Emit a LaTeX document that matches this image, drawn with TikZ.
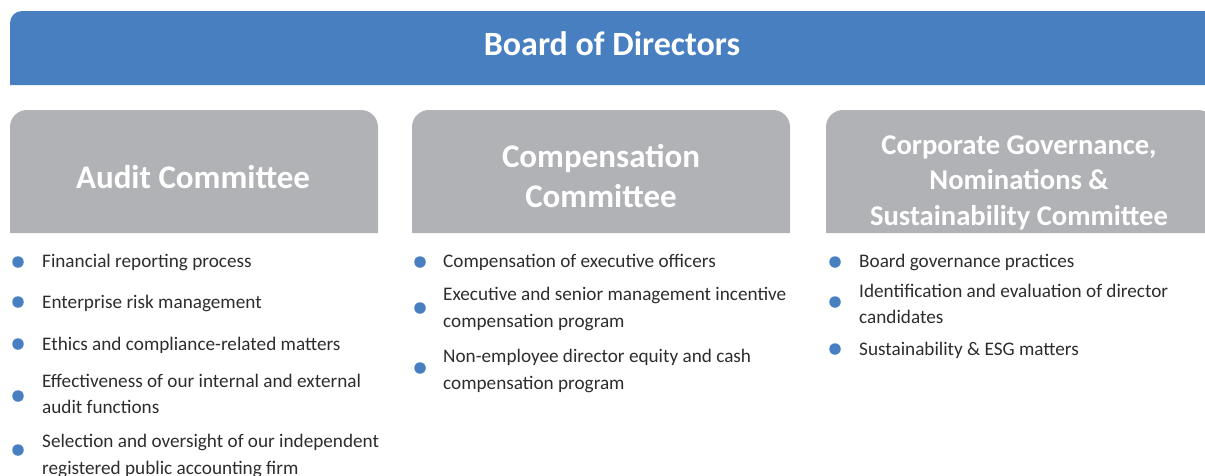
\documentclass[tikz,border=0pt]{standalone}
\usepackage{fontspec}
\setmainfont{Carlito}
\usetikzlibrary{positioning}
\definecolor{boardblue}{RGB}{71,127,192}
\definecolor{boxgray}{RGB}{177,178,182}
\definecolor{itemgray}{RGB}{45,45,45}

\tikzset{
  headtext/.style={text=white, align=center, inner sep=0pt, font=\fontsize{33}{40}\selectfont\bfseries},
  dot/.style={circle, fill=boardblue, inner sep=0pt, minimum size=11.5pt},
  item/.style={anchor=west, align=left, inner sep=0pt, text=itemgray, font=\fontsize{19.2}{26.5}\selectfont},
}

\begin{document}
\begin{tikzpicture}[x=1pt,y=-1pt]
  \useasboundingbox (0,0) rectangle (1205,475);
  % board bar
  \fill[boardblue] (10,85) [rounded corners=12] -- (10,11) [sharp corners] -- (1220,11) -- (1220,85) -- cycle;
  \node[headtext, font=\fontsize{34}{40}\selectfont\bfseries] (board) at (612,44) {Board of Directors};

  % committee heads
  \fill[boxgray] (10,233) [rounded corners=17] -- (10,110) -- (378,110) [sharp corners] -- (378,233) -- cycle;
  \fill[boxgray] (412,233) [rounded corners=17] -- (412,110) -- (790,110) [sharp corners] -- (790,233) -- cycle;
  \fill[boxgray] (826,233) [rounded corners=17] -- (826,110) -- (1215,110) [sharp corners] -- (1215,233) -- cycle;
  \node[headtext] (audit) at (193,177) {Audit Committee};
  \node[headtext] (comp) at (601,176) {Compensation\\Committee};
  \node[headtext, font=\fontsize{28.6}{35.5}\selectfont\bfseries] (gov) at (1019,182.5) {Corporate Governance,\\Nominations \&\\Sustainability Committee};

  % audit items
  \node[dot] (a1) at (18,262) {};
  \node[item] (ta1) at (42,262) {Financial reporting process};
  \node[dot] (a2) at (18,302) {};
  \node[item] (ta2) at (42,303) {Enterprise risk management};
  \node[dot] (a3) at (18,344) {};
  \node[item] (ta3) at (42,345) {Ethics and compliance-related matters};
  \node[dot] (a4) at (18,396) {};
  \node[item] (ta4) at (42,394) {Effectiveness of our internal and external\\audit functions};
  \node[dot] (a5) at (18,450) {};
  \node[item] (ta5) at (42,456) {Selection and oversight of our independent\\registered public accounting firm};

  % compensation items
  \node[dot] (c1) at (420,262) {};
  \node[item] (tc1) at (443,262) {Compensation of executive officers};
  \node[dot] (c2) at (420,308) {};
  \node[item] (tc2) at (443,309) {Executive and senior management incentive\\compensation program};
  \node[dot] (c3) at (420,368) {};
  \node[item] (tc3) at (443,371) {Non-employee director equity and cash\\compensation program};

  % governance items
  \node[dot] (g1) at (835,262) {};
  \node[item] (tg1) at (859,262) {Board governance practices};
  \node[dot] (g2) at (835,302) {};
  \node[item] (tg2) at (859,304) {Identification and evaluation of director\\candidates};
  \node[dot] (g3) at (835,349) {};
  \node[item] (tg3) at (859,350) {Sustainability \& ESG matters};
\end{tikzpicture}
\end{document}
